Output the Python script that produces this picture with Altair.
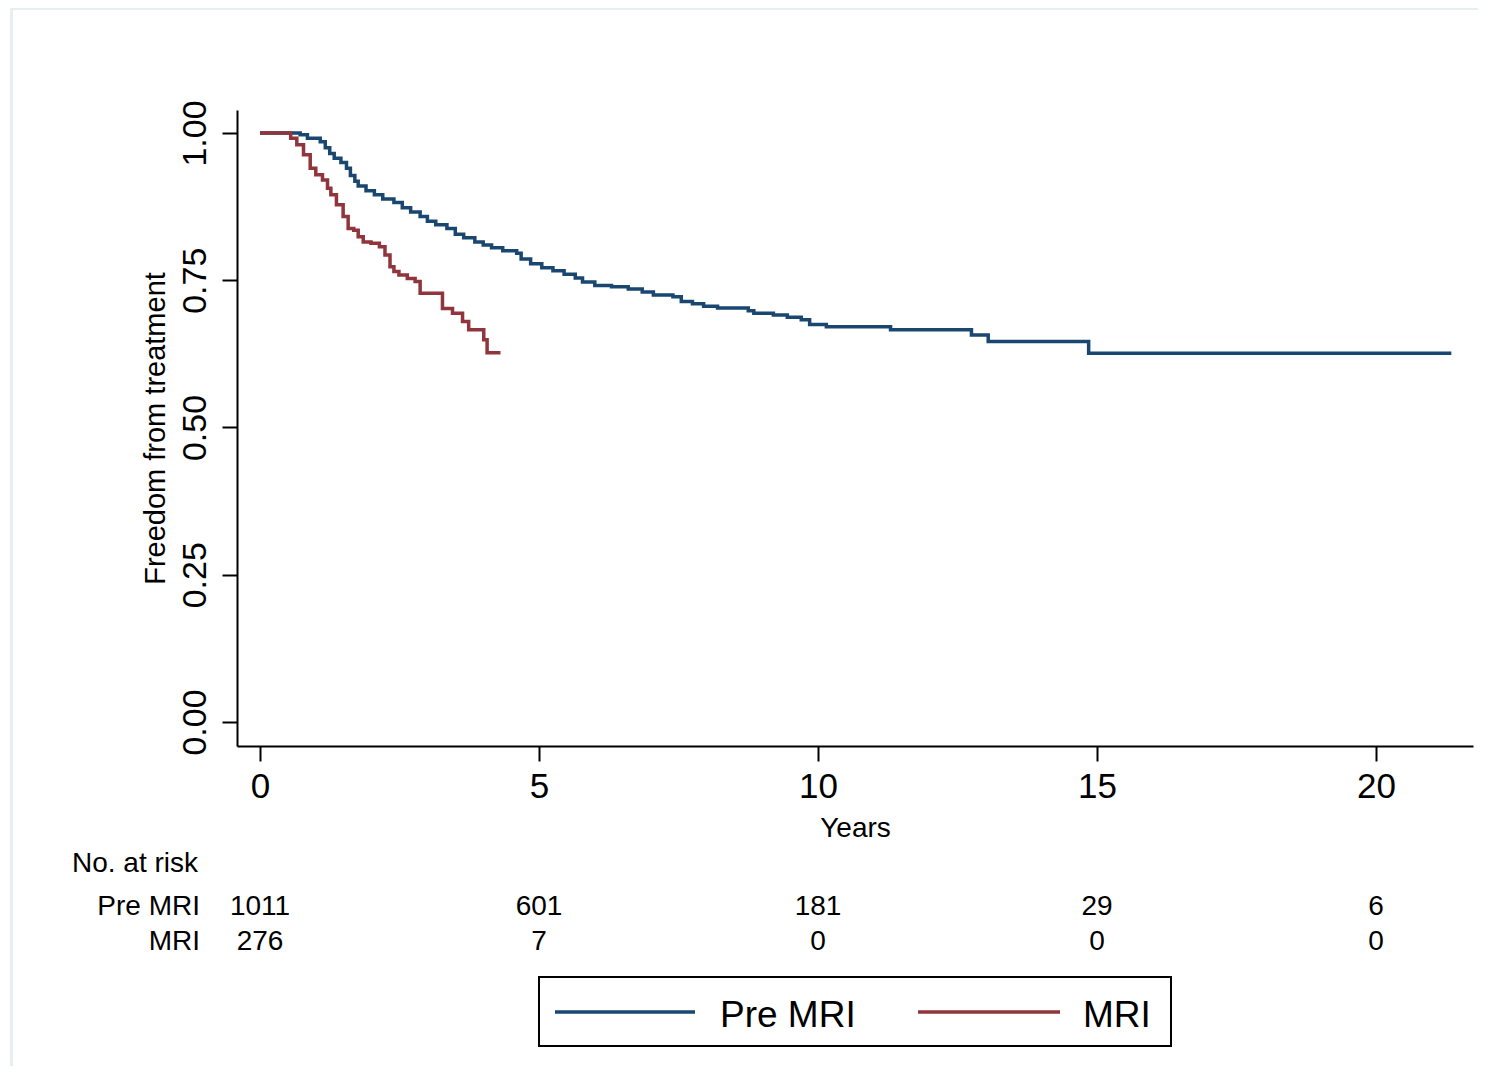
import altair as alt
import pandas as pd

# ---------------- data ----------------
groups = ["Pre MRI", "MRI"]
colors = ["#1a476f", "#90353b"]

pre_t = [0, 0.72, 0.85, 1.08, 1.17, 1.25, 1.33, 1.45, 1.55, 1.62, 1.70, 1.76, 1.90,
         2.05, 2.20, 2.40, 2.55, 2.70, 2.87, 3.00, 3.15, 3.35, 3.50, 3.65, 3.85,
         4.00, 4.15, 4.35, 4.60, 4.68, 4.85, 5.05, 5.25, 5.45, 5.65, 5.78, 6.00,
         6.30, 6.60, 6.85, 7.05, 7.40, 7.55, 7.75, 7.95, 8.20, 8.75, 8.85, 9.20,
         9.45, 9.70, 9.85, 10.15, 11.30, 12.75, 13.05, 14.85, 21.35]
pre_s = [1.000, 0.997, 0.991, 0.985, 0.975, 0.965, 0.957, 0.950, 0.940, 0.928, 0.918,
         0.910, 0.902, 0.895, 0.888, 0.882, 0.873, 0.866, 0.858, 0.850, 0.844, 0.838,
         0.828, 0.822, 0.815, 0.810, 0.805, 0.800, 0.796, 0.786, 0.778, 0.771, 0.766,
         0.760, 0.754, 0.747, 0.741, 0.739, 0.735, 0.730, 0.725, 0.722, 0.714, 0.710,
         0.706, 0.703, 0.698, 0.694, 0.691, 0.687, 0.683, 0.675, 0.671, 0.666, 0.657,
         0.646, 0.626, 0.626]

mri_t = [0, 0.55, 0.66, 0.78, 0.90, 1.00, 1.12, 1.21, 1.27, 1.37, 1.49, 1.58, 1.68,
         1.76, 1.85, 1.99, 2.14, 2.24, 2.33, 2.40, 2.49, 2.64, 2.78, 2.87, 3.27, 3.45,
         3.63, 3.74, 4.01, 4.07, 4.31]
mri_s = [1.000, 0.991, 0.980, 0.963, 0.940, 0.929, 0.920, 0.906, 0.895, 0.878, 0.858,
         0.838, 0.835, 0.824, 0.815, 0.813, 0.807, 0.793, 0.773, 0.765, 0.759, 0.753,
         0.748, 0.728, 0.702, 0.694, 0.680, 0.666, 0.649, 0.627, 0.627]

risk_times = [0, 5, 10, 15, 20]
risk_pre = [1011, 601, 181, 29, 6]
risk_mri = [276, 7, 0, 0, 0]

x_ticks = [0, 5, 10, 15, 20]
y_ticks = [0, 0.25, 0.5, 0.75, 1.0]

# ---------------- tables ----------------
curves = pd.DataFrame({
    "years": pre_t + mri_t,
    "surv": pre_s + mri_s,
    "group": [groups[0]] * len(pre_t) + [groups[1]] * len(mri_t),
})
risk = pd.DataFrame({"years": risk_times, "pre": risk_pre, "mri": risk_mri})

FONT = "Liberation Sans"
xscale = alt.Scale(domain=[-0.412, 21.738], nice=False, zero=False)
yscale = alt.Scale(domain=[-0.0407, 1.039], nice=False, zero=False)
color = alt.Color("group:N", scale=alt.Scale(domain=groups, range=colors), legend=None)

xaxis = alt.Axis(
    values=x_ticks, format="d", labelFontSize=35, labelFont=FONT, labelColor="black",
    tickSize=15, tickWidth=2, tickColor="black", domainWidth=2, domainColor="black",
    labelPadding=8, grid=False, labelFlush=False, labelOverlap=False,
    title="Years", titleFont=FONT, titleFontSize=28, titleFontWeight="normal",
    titleColor="black", titleX=618, titleY=90, titleAlign="center",
    titleBaseline="alphabetic")
yaxis = alt.Axis(
    values=y_ticks, format=".2f", labelFontSize=34, labelFont=FONT, labelColor="black",
    labelAngle=270, labelAlign="center", labelBaseline="alphabetic", labelPadding=17,
    tickSize=15, tickWidth=2, tickColor="black", domainWidth=2, domainColor="black",
    grid=False, labelFlush=False, labelOverlap=False,
    title="Freedom from treatment", titleFont=FONT, titleFontSize=29,
    titleFontWeight="normal", titleColor="black", titleAngle=270, titleX=-73,
    titleY=318, titleAlign="center", titleBaseline="alphabetic")

lines = alt.Chart(curves).mark_line(interpolate="step-after", strokeWidth=3.5).encode(
    x=alt.X("years:Q", scale=xscale, axis=xaxis),
    y=alt.Y("surv:Q", scale=yscale, axis=yaxis),
    color=color,
)

# ---------------- number at risk table ----------------
tstyle = dict(font=FONT, fontSize=28, color="black", baseline="alphabetic")
risk_pre_txt = alt.Chart(risk).mark_text(align="center", **tstyle).encode(
    x=alt.X("years:Q", scale=xscale, axis=xaxis), y=alt.value(805), text="pre:N")
risk_mri_txt = alt.Chart(risk).mark_text(align="center", **tstyle).encode(
    x=alt.X("years:Q", scale=xscale, axis=xaxis), y=alt.value(840), text="mri:N")

hdr = alt.Chart(pd.DataFrame({"t": ["No. at risk"]})).mark_text(align="left", **tstyle).encode(
    x=alt.value(-165), y=alt.value(762), text="t:N")
row1 = alt.Chart(pd.DataFrame({"t": [groups[0]]})).mark_text(align="right", **tstyle).encode(
    x=alt.value(-37), y=alt.value(805), text="t:N")
row2 = alt.Chart(pd.DataFrame({"t": [groups[1]]})).mark_text(align="right", **tstyle).encode(
    x=alt.value(-37), y=alt.value(840), text="t:N")

# ---------------- legend box ----------------
dummy = pd.DataFrame({"group": [groups[0]]})
leg_box = alt.Chart(dummy).mark_rect(fill="white", stroke="black", strokeWidth=2).encode(
    x=alt.value(302), x2=alt.value(934), y=alt.value(867), y2=alt.value(936))
leg_l1 = alt.Chart(pd.DataFrame({"group": [groups[0]]})).mark_rule(strokeWidth=3.5).encode(
    x=alt.value(318), x2=alt.value(458), y=alt.value(902), color=color)
leg_l2 = alt.Chart(pd.DataFrame({"group": [groups[1]]})).mark_rule(strokeWidth=3.5).encode(
    x=alt.value(681), x2=alt.value(823), y=alt.value(902), color=color)
lstyle = dict(font=FONT, fontSize=37, color="black", baseline="alphabetic", align="left")
leg_t1 = alt.Chart(pd.DataFrame({"t": [groups[0]]})).mark_text(**lstyle).encode(
    x=alt.value(483), y=alt.value(917), text="t:N")
leg_t2 = alt.Chart(pd.DataFrame({"t": [groups[1]]})).mark_text(**lstyle).encode(
    x=alt.value(846), y=alt.value(917), text="t:N")

# faint outer frame
frame_l = alt.Chart(dummy).mark_rule(color="#e6eef2", strokeWidth=3).encode(
    x=alt.value(-225.5), y=alt.value(-102), y2=alt.value(960))
frame_t = alt.Chart(dummy).mark_rule(color="#e6eef2", strokeWidth=2).encode(
    x=alt.value(-226), x2=alt.value(1250), y=alt.value(-101))

chart = alt.layer(
    frame_l, frame_t, lines, risk_pre_txt, risk_mri_txt, hdr, row1, row2,
    leg_box, leg_l1, leg_l2, leg_t1, leg_t2,
).properties(
    width=1236, height=636,
    padding={"left": 229, "top": 102, "right": 5, "bottom": 320},
    autosize=alt.AutoSizeParams(type="none"),
    background="white",
).configure_view(stroke=None)

chart.save("out.html", embed_options={"renderer": "svg", "actions": False})
